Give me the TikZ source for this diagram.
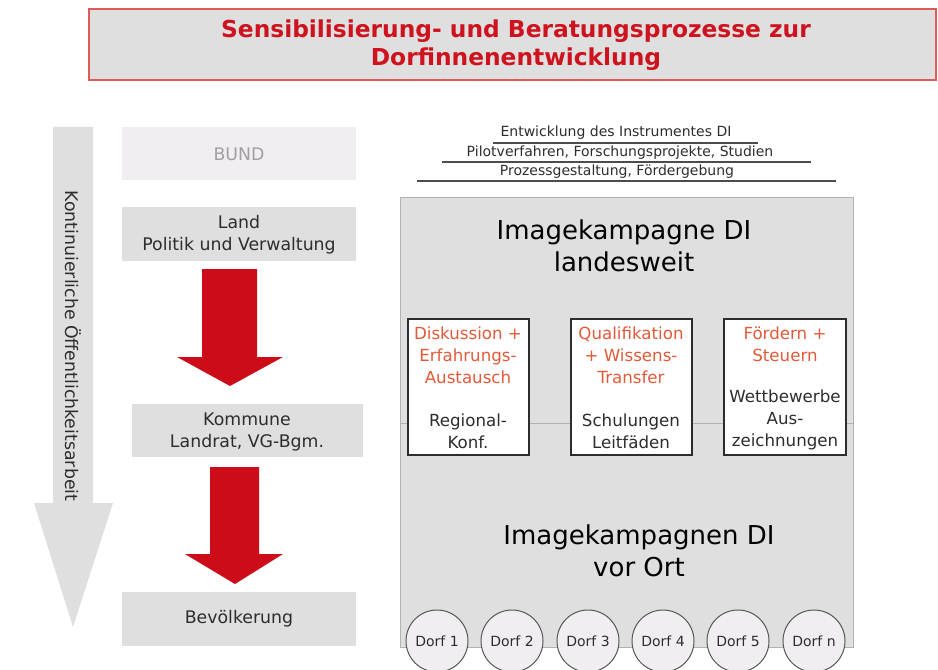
\documentclass[tikz,border=0pt]{standalone}
\usepackage{fontspec}
\setmainfont{DejaVu Sans}
\definecolor{titlered}{RGB}{206,18,30}
\definecolor{framered}{RGB}{222,92,86}
\definecolor{arrowred}{RGB}{204,12,24}
\definecolor{boxgrey}{RGB}{223,223,223}
\definecolor{palegrey}{RGB}{241,238,241}
\definecolor{edgegrey}{RGB}{178,178,178}
\definecolor{textorange}{RGB}{226,90,58}
\definecolor{darktext}{RGB}{45,45,45}

\tikzset{
  lvltext/.style={align=center, text=darktext, inner sep=0.75pt, font=\fontsize{13}{16.5}\selectfont},
  steptext/.style={align=center, text=textorange, inner sep=0.75pt, font=\fontsize{12.5}{16.5}\selectfont},
  tooltext/.style={align=center, text=darktext, inner sep=0.75pt, font=\fontsize{12.5}{16.5}\selectfont},
  bigtext/.style={align=center, text=black, inner sep=0.75pt, font=\fontsize{19.5}{24}\selectfont},
  devtext/.style={text=darktext, inner sep=0.75pt, font=\fontsize{10.5}{12}\selectfont},
  dorf/.style={circle, draw=darktext!80, fill=palegrey, line width=0.75pt, minimum size=46.5pt, inner sep=0pt, text=darktext, font=\fontsize{10.5}{12}\selectfont}
}

\begin{document}
\begin{tikzpicture}[x=0.75pt,y=0.75pt,yscale=-1,xscale=1]
\useasboundingbox (0,0) rectangle (938,670);

%Shape: Title box
\draw [draw=framered, line width=1.5pt, fill=boxgrey] (89,9) rectangle (936,80) ;
% Text Node
\draw (516,45) node [align=center, text=titlered, inner sep=0.75pt, font=\bfseries\fontsize{17.5}{20.5}\selectfont] (title) {Sensibilisierung- und Beratungsprozesse zur\\Dorfinnenentwicklung};

%Shape: grey arrow (Oeffentlichkeitsarbeit)
\draw [draw opacity=0, fill=boxgrey] (53,127) -- (93,127) -- (93,503) -- (113,503) -- (73,627) -- (34,503) -- (53,503) -- cycle ;
% Text Node
\draw (73,346) node [rotate=-90, lvltext] (oeff) {Kontinuierliche Öffentlichkeitsarbeit};

%Shape: level boxes
\draw [draw opacity=0, fill=palegrey] (122,127) rectangle (356,180) ;
\draw [draw opacity=0, fill=boxgrey] (122,207) rectangle (356,261) ;
\draw [draw opacity=0, fill=boxgrey] (132,404) rectangle (363,457) ;
\draw [draw opacity=0, fill=boxgrey] (122,592) rectangle (356,646) ;
% Text Node
\draw (239,154) node [lvltext, text=gray!75] (bund) {BUND};
% Text Node
\draw (239,235) node [lvltext] (land) {Land\\Politik und Verwaltung};
% Text Node
\draw (247,432) node [lvltext] (kommune) {Kommune\\Landrat, VG-Bgm.};
% Text Node
\draw (239,619) node [lvltext] (bevoelkerung) {Bevölkerung};

%Shape: red arrows
\draw [draw opacity=0, fill=arrowred] (202,269) -- (257,269) -- (257,357) -- (283,357) -- (230,386) -- (177,357) -- (202,357) -- cycle ;
\draw [draw opacity=0, fill=arrowred] (210,467) -- (259,467) -- (259,554) -- (283,554) -- (235,584) -- (185,554) -- (210,554) -- cycle ;

% Text Node
\draw (616,133) node [devtext] (instr) {Entwicklung des Instrumentes DI};
% Text Node
\draw (620,153) node [devtext] (pilot) {Pilotverfahren, Forschungsprojekte, Studien};
% Text Node
\draw (617,172) node [devtext] (prozess) {Prozessgestaltung, Fördergebung};
%Straight Lines
\draw [color=darktext!85, line width=1pt] (493,143) -- (758,143) ;
\draw [color=darktext!85, line width=1pt] (442,162) -- (811,162) ;
\draw [color=darktext!85, line width=1pt] (417,181) -- (836,181) ;

%Shape: campaign box
\draw [draw=edgegrey, line width=0.75pt, fill=boxgrey] (400,198) rectangle (853,647) ;
%Straight Lines
\draw [color=edgegrey, line width=0.75pt] (400,423) -- (853,423) ;
% Text Node
\draw (624,246) node [bigtext] (landesweit) {Imagekampagne DI\\landesweit};
% Text Node
\draw (639,551) node [bigtext] (vorort) {Imagekampagnen DI\\vor Ort};

%Shape: white boxes
\draw [draw=darktext, line width=1.5pt, fill=white] (408,319) rectangle (529,455) ;
\draw [draw=darktext, line width=1.5pt, fill=white] (571,319) rectangle (692,455) ;
\draw [draw=darktext, line width=1.5pt, fill=white] (724,319) rectangle (846,455) ;
% Text Node
\draw (468,355) node [steptext] (diskussion) {Diskussion +\\Erfahrungs-\\Austausch};
\draw (468,431) node [tooltext] (regional) {Regional-\\Konf.};
% Text Node
\draw (631,355) node [steptext] (quali) {Qualifikation\\+ Wissens-\\Transfer};
\draw (631,431) node [tooltext] (schulung) {Schulungen\\Leitfäden};
% Text Node
\draw (785,344) node [steptext] (foerdern) {Fördern +\\Steuern};
\draw (785,420) node [tooltext] (wettbewerbe) {Wettbewerbe\\Aus-\\zeichnungen};

%Shape: villages
\draw (437,641) node [dorf] (dorf1) {Dorf 1};
\draw (512,641) node [dorf] (dorf2) {Dorf 2};
\draw (588,641) node [dorf] (dorf3) {Dorf 3};
\draw (663,641) node [dorf] (dorf4) {Dorf 4};
\draw (738,641) node [dorf] (dorf5) {Dorf 5};
\draw (814,641) node [dorf] (dorfn) {Dorf n};

\end{tikzpicture}
\end{document}
